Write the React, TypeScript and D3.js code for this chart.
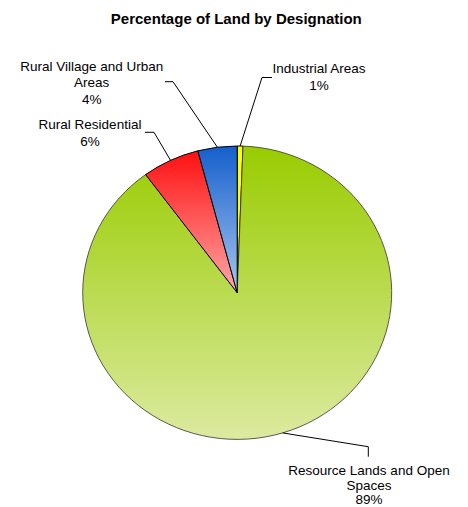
import React from "react";
import * as d3 from "d3";

const categories = [
  "Industrial Areas",
  "Resource Lands and Open Spaces",
  "Rural Residential",
  "Rural Village and Urban Areas",
];
const values = [0.6, 89.3, 6.0, 4.1];
const labelLines = [
  ["Industrial Areas"],
  ["Resource Lands and Open", "Spaces"],
  ["Rural Residential"],
  ["Rural Village and Urban", "Areas"],
];
const title = "Percentage of Land by Designation";

const W = 468;
const H = 507;
const cx = 237.2;
const cy = 292.7;
const ry = 146.7;
const rx = 154.5;
const sx = rx / ry;

const gradients = [
  { top: "#ffff00", bottom: "#ffff00" },
  { top: "#99cc00", bottom: "#dceaa0" },
  { top: "#ff1010", bottom: "#ffa8a8" },
  { top: "#155fcc", bottom: "#a8c6ee" },
];

// label layout: elbow point, end point, text anchor position, line spacing
const labelLayout = [
  { elbow: [262, 77.5], end: [272, 77.5], tx: 319, ty: 73.3, dy: 16.7 },
  { elbow: [368.3, 446.7], end: [368.3, 456.7], tx: 369, ty: 475, dy: 14.6 },
  { elbow: [154, 132.3], end: [145, 132.3], tx: 90, ty: 129.3, dy: 16.7 },
  { elbow: [173, 81.7], end: [165, 81.7], tx: 91.7, ty: 70.7, dy: 16.7 },
];

export default function App() {
  const data = categories.map((c, i) => ({ c, v: values[i], i }));
  const total = d3.sum(values);
  const pie = d3
    .pie<any>()
    .value((d) => d.v)
    .sort(null)
    .startAngle(0)
    .endAngle(2 * Math.PI);
  const arcs = pie(data);
  const arcGen = d3.arc<any>().innerRadius(0).outerRadius(ry);

  return (
    <svg
      width={W}
      height={H}
      style={{ position: "absolute", left: 0, top: 0, background: "#fff" }}
      fontFamily="'Liberation Sans', Arial, sans-serif"
    >
      <defs>
        {gradients.map((g, i) => (
          <linearGradient key={i} id={`g${i}`} x1="0" y1="0" x2="0" y2="1">
            <stop offset="0%" stopColor={g.top} />
            <stop offset="100%" stopColor={g.bottom} />
          </linearGradient>
        ))}
      </defs>
      <text
        x={236.3}
        y={23.7}
        textAnchor="middle"
        fontWeight="bold"
        fontSize={15}
        fill="#000"
      >
        {title}
      </text>
      <g transform={`translate(${cx},${cy}) scale(${sx},1)`}>
        {arcs.map((a, i) => (
          <path
            key={i}
            d={arcGen(a) as string}
            fill={`url(#g${i})`}
            stroke={i === 1 ? "#333" : "#000"}
            strokeWidth={i === 1 ? 0.8 : 1}
            vectorEffect="non-scaling-stroke"
            strokeLinejoin="round"
          />
        ))}
      </g>
      {arcs.map((a, i) => {
        const mid = (a.startAngle + a.endAngle) / 2;
        const x0 = cx + Math.sin(mid) * rx;
        const y0 = cy - Math.cos(mid) * ry;
        const L = labelLayout[i];
        const lines = [
          ...labelLines[i],
          `${Math.round((a.data.v / total) * 100)}%`,
        ];
        return (
          <g key={i}>
            <polyline
              points={`${x0},${y0} ${L.elbow[0]},${L.elbow[1]} ${L.end[0]},${L.end[1]}`}
              fill="none"
              stroke="#000"
              strokeWidth={1}
            />
            {lines.map((t, j) => (
              <text
                key={j}
                x={L.tx}
                y={L.ty + j * L.dy}
                textAnchor="middle"
                fontSize={13.5}
                fill="#000"
              >
                {t}
              </text>
            ))}
          </g>
        );
      })}
    </svg>
  );
}
